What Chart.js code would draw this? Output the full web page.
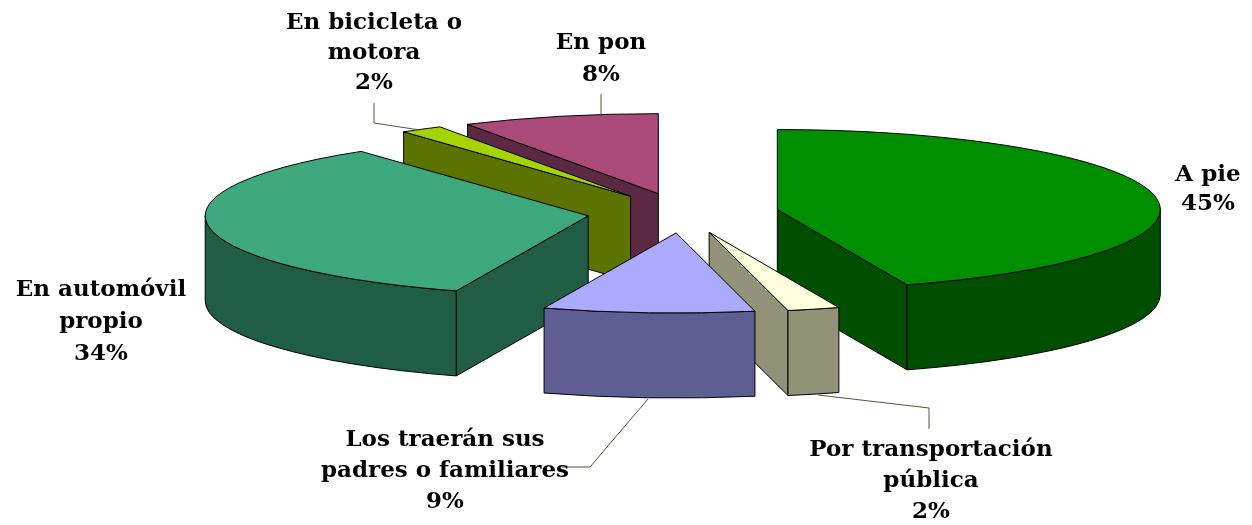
<!DOCTYPE html>
<html>
<head>
<meta charset="utf-8">
<style>
  html, body { margin: 0; background: #fff; }
  canvas { display: block; }
</style>
<script src="https://cdn.jsdelivr.net/npm/chart.js@4"></script>
</head>
<body>
<canvas id="pastel" width="1252" height="525"></canvas>
<script>
const categorias = ["A pie", "Por transportación pública", "Los traerán sus padres o familiares", "En automóvil propio", "En bicicleta o motora", "En pon"];
const porcentajes = [44.5, 2.2, 8.9, 34.3, 1.8, 8.3];
const coloresArriba = ["#008f00", "#ffffdd", "#aaaaff", "#3da87c", "#a6d400", "#a94a78"];
const coloresLado = ["#004f00", "#929278", "#5e5e92", "#1f5d45", "#5c7300", "#5d2942"];

// como se parte cada rotulo en lineas
const lineas = [["A pie"], ["Por transportación", "pública"], ["Los traerán sus", "padres o familiares"], ["En automóvil", "propio"], ["En bicicleta o", "motora"], ["En pon"]];
const rotuloX = [1208, 931, 445, 101, 374, 601];
const rotuloY = [181, 456, 446, 296, 29, 49];
const rotuloPaso = [29, 31, 31, 32, 30, 32];
const guias = [null, [[929, 429], [929, 408], [818, 395]], [[562, 467], [590, 467], [648, 399]], null, [[374, 103], [374, 123], [420, 130]], [[601, 94], [601, 116]]];

// orden de pintura, de atras hacia adelante
const orden = [5, 4, 3, 0, 1, 2];
const RX = 383, RY = 80, ALTO = 85, SEPARA = 0.25;

function caminoCuna(ctx, cx, cy, sx, sy, r, a, b) {
    ctx.beginPath();
    ctx.moveTo(cx, cy);
    ctx.save();
    ctx.translate(cx, cy);
    ctx.scale(sx, sy);
    ctx.arc(0, 0, r, a, b);
    ctx.restore();
    ctx.closePath();
}

function cara(ctx, cx, cy, px, py) {
    ctx.beginPath();
    ctx.moveTo(cx, cy);
    ctx.lineTo(px, py);
    ctx.lineTo(px, py + ALTO);
    ctx.lineTo(cx, cy + ALTO);
    ctx.closePath();
    ctx.fill();
    ctx.stroke();
}

function pintarPorcion(ctx, arc, i) {
    const r = arc.outerRadius, sx = RX / r, sy = RY / r;
    const a = arc.startAngle, b = arc.endAngle, medio = (a + b) / 2;
    const cx = arc.x + Math.cos(medio) * r * SEPARA * sx;
    const cy = arc.y + Math.sin(medio) * r * SEPARA * sy;

    ctx.lineWidth = 1;
    ctx.strokeStyle = "#000";
    ctx.lineJoin = "round";
    ctx.fillStyle = coloresLado[i];
    // solo las caras de corte que miran al frente
    if (Math.cos(a) < -0.001) cara(ctx, cx, cy, cx + Math.cos(a) * RX, cy + Math.sin(a) * RY);
    if (Math.cos(b) > 0.001) cara(ctx, cx, cy, cx + Math.cos(b) * RX, cy + Math.sin(b) * RY);

    // borde curvo, solo la parte de adelante
    const ini = Math.max(a, 0), fin = Math.min(b, Math.PI);
    if (fin > ini) {
        ctx.beginPath();
        ctx.ellipse(cx, cy, RX, RY, 0, ini, fin);
        ctx.ellipse(cx, cy + ALTO, RX, RY, 0, fin, ini, true);
        ctx.closePath();
        ctx.fill();
        ctx.stroke();
    }

    ctx.fillStyle = coloresArriba[i];
    caminoCuna(ctx, cx, cy, sx, sy, r, a, b);
    ctx.fill();
    ctx.stroke();
}

function pintarRotulos(ctx) {
    ctx.strokeStyle = "#55553f";
    ctx.lineWidth = 1;
    guias.forEach(g => {
        if (!g) return;
        ctx.beginPath();
        g.forEach((p, k) => k ? ctx.lineTo(p[0], p[1]) : ctx.moveTo(p[0], p[1]));
        ctx.stroke();
    });

    ctx.fillStyle = "#000";
    ctx.font = "bold 23px 'DejaVu Serif'";
    ctx.textAlign = "center";
    ctx.textBaseline = "alphabetic";
    categorias.forEach((_, i) => {
        const todas = lineas[i].concat([Math.round(porcentajes[i]) + "%"]);
        todas.forEach((txt, k) => ctx.fillText(txt, rotuloX[i], rotuloY[i] + k * rotuloPaso[i]));
    });
}

const pastel3d = {
    id: "pastel3d",
    beforeDatasetsDraw(chart) {
        const ctx = chart.ctx;
        const arcos = chart.getDatasetMeta(0).data;
        orden.forEach(i => pintarPorcion(ctx, arcos[i], i));
        pintarRotulos(ctx);
        return false;
    }
};

new Chart(document.getElementById("pastel").getContext("2d"), {
    type: "pie",
    data: {
        labels: categorias,
        datasets: [{ data: porcentajes, backgroundColor: coloresArriba, borderWidth: 0 }]
    },
    options: {
        responsive: false,
        animation: false,
        layout: { padding: { left: 114, bottom: 99 } },
        plugins: { legend: { display: false }, tooltip: { enabled: false } }
    },
    plugins: [pastel3d]
});
</script>
</body>
</html>
